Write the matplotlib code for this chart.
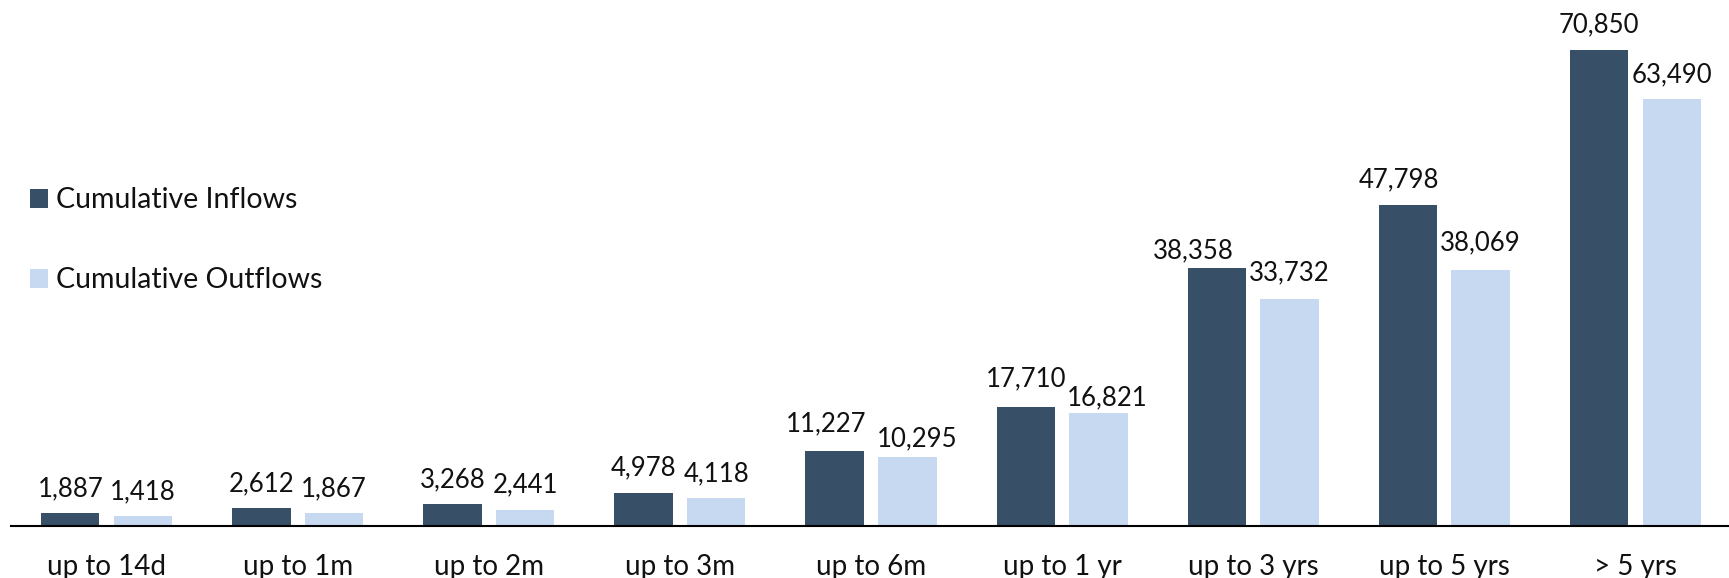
import matplotlib
matplotlib.use("Agg")
import matplotlib.pyplot as plt
import numpy as np

categories = ["up to 14d", "up to 1m", "up to 2m", "up to 3m", "up to 6m",
              "up to 1 yr", "up to 3 yrs", "up to 5 yrs", "> 5 yrs"]
inflows = [1887, 2612, 3268, 4978, 11227, 17710, 38358, 47798, 70850]
outflows = [1418, 1867, 2441, 4118, 10295, 16821, 33732, 38069, 63490]

# manual label nudges (pixels, dx, dy) as in the original layout
nudge_in = [(0, 0), (0, 0), (0, 0), (0, 0), (-9, 2), (0, 4), (-24, -7), (-9, 0), (0, 0)]
nudge_out = [(0, 0), (0, 0), (0, 0), (0, 0), (10, -7), (9, -9), (0, 2), (0, 3), (0, 0)]

dark = "#375068"
light = "#C6D9F0"

plt.rcParams['font.family'] = ['Lato', 'DejaVu Sans']

fig = plt.figure(figsize=(17.29, 5.78), dpi=100)
ax = fig.add_axes([11 / 1729, 52 / 578, 1720 / 1729, 526 / 578])

x = np.arange(len(categories))
w = 0.306
off = 0.19
b1 = ax.bar(x - off, inflows, w, color=dark, label="Cumulative Inflows")
b2 = ax.bar(x + off, outflows, w, color=light, label="Cumulative Outflows")

for bars, vals, nud in ((b1, inflows, nudge_in), (b2, outflows, nudge_out)):
    for r, v, (dx, dy) in zip(bars, vals, nud):
        ax.annotate(f"{v:,}", (r.get_x() + r.get_width() / 2, v),
                    xytext=(dx, 17 + dy), textcoords="offset pixels",
                    ha="center", va="baseline", fontsize=18.5, color="#111111")

ax.set_xlim(-0.5, 8.5)
ax.set_ylim(0, 78227)
ax.set_xticks(x)
ax.set_xticklabels(categories, fontsize=20, color="#111111")
ax.tick_params(axis="x", length=0, pad=20)
ax.set_yticks([])
for s in ("top", "right", "left"):
    ax.spines[s].set_visible(False)
ax.spines["bottom"].set_linewidth(1.5)
ax.spines["bottom"].set_color("#000000")

leg = fig.legend(handles=[b1, b2], loc="upper left",
                 bbox_to_anchor=(19 / 1729, 1 - 176 / 578),
                 frameon=False, fontsize=20.5, handlelength=0.63,
                 handleheight=0.63, handletextpad=0.28, labelspacing=1.9,
                 borderaxespad=0)
for t in leg.get_texts():
    t.set_color("#111111")

fig.savefig("out.png", dpi=100)
